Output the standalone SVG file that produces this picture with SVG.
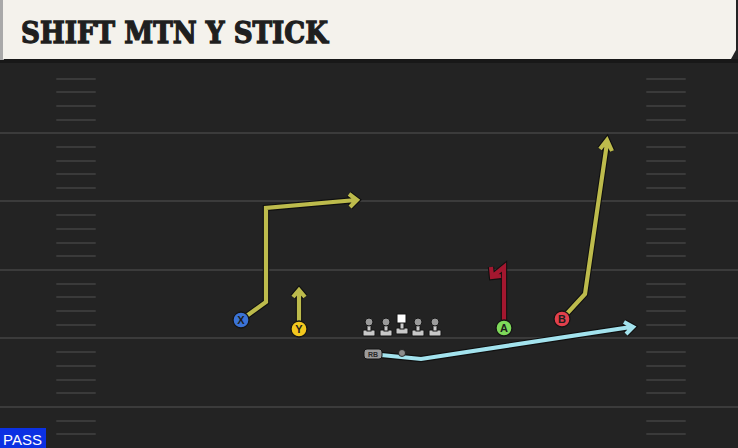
<svg xmlns="http://www.w3.org/2000/svg" xmlns:xlink="http://www.w3.org/1999/xlink" width="738" height="448" viewBox="0 0 738 448">
<style>
.yl{stroke:#3b3b3b;stroke-width:2}
.hm{stroke:#3a3a3a;stroke-width:2;stroke-linecap:round}
.out{fill:none;stroke:#101010;stroke-width:6.4;stroke-linejoin:miter;stroke-linecap:butt}
.rt{fill:none;stroke-width:4.2;stroke-linejoin:miter;stroke-linecap:butt}
.olive{stroke:#bdbb4c}
.red{stroke:#a3172f}
.blue{stroke:#a3e3ee}
.pc{stroke:#141414;stroke-width:1.3}
.pl{font-family:"Liberation Sans",Arial,sans-serif;font-size:11px;font-weight:bold;fill:#1d1d1d;text-anchor:middle}
.ol{fill:#c9c9c9;stroke:#151515;stroke-width:1}
.olh{fill:#9a9a9a;stroke:#151515;stroke-width:1}
</style>
<defs>
<path id="rX" d="M241,320 L266,302 L266,208 L356,200 M349,194 L357,200 L350,207"/>
<path id="rY" d="M299,322 L299,292 M293,297 L299,290 L305,297"/>
<path id="rA" d="M504,321 L504,267 L493,276 M491,267 L492,277 L501,276"/>
<path id="rB" d="M562,319 L585,294 L607,143 M600,149 L607,140 L612,151"/>
<path id="rRB" d="M381,355 L421,359 L631,327 M624,322 L633,327 L626,334"/>
</defs>
<rect x="0" y="0" width="738" height="448" fill="#232323"/>
<g id="field">
<line class="yl" x1="0" y1="133" x2="738" y2="133"/>
<line class="yl" x1="0" y1="201" x2="738" y2="201"/>
<line class="yl" x1="0" y1="270" x2="738" y2="270"/>
<line class="yl" x1="0" y1="338" x2="738" y2="338"/>
<line class="yl" x1="0" y1="407" x2="738" y2="407"/>
<g id="hashL">
<line class="hm" x1="57" y1="79" x2="95" y2="79"/><line class="hm" x1="57" y1="92" x2="95" y2="92"/><line class="hm" x1="57" y1="106" x2="95" y2="106"/><line class="hm" x1="57" y1="120" x2="95" y2="120"/>
<line class="hm" x1="57" y1="147" x2="95" y2="147"/><line class="hm" x1="57" y1="161" x2="95" y2="161"/><line class="hm" x1="57" y1="174" x2="95" y2="174"/><line class="hm" x1="57" y1="188" x2="95" y2="188"/>
<line class="hm" x1="57" y1="215" x2="95" y2="215"/><line class="hm" x1="57" y1="229" x2="95" y2="229"/><line class="hm" x1="57" y1="243" x2="95" y2="243"/><line class="hm" x1="57" y1="256" x2="95" y2="256"/>
<line class="hm" x1="57" y1="284" x2="95" y2="284"/><line class="hm" x1="57" y1="297" x2="95" y2="297"/><line class="hm" x1="57" y1="311" x2="95" y2="311"/><line class="hm" x1="57" y1="325" x2="95" y2="325"/>
<line class="hm" x1="57" y1="352" x2="95" y2="352"/><line class="hm" x1="57" y1="366" x2="95" y2="366"/><line class="hm" x1="57" y1="380" x2="95" y2="380"/><line class="hm" x1="57" y1="393" x2="95" y2="393"/>
<line class="hm" x1="57" y1="421" x2="95" y2="421"/><line class="hm" x1="57" y1="434" x2="95" y2="434"/>
</g>
<use xlink:href="#hashL" href="#hashL" x="590"/>
</g>
<g id="header">
<rect x="0" y="59" width="738" height="4" fill="#181818"/>
<rect x="0" y="0" width="4" height="60" fill="#a9a9a9"/>
<path d="M3,0 H736 V50 L731,59 H3 Z" fill="#f4f2ec"/>
<text x="21" y="43" font-family="'DejaVu Serif',serif" font-weight="bold" font-size="29" fill="#1f1f1f" stroke="#1f1f1f" stroke-width="1.3" textLength="307" lengthAdjust="spacingAndGlyphs">SHIFT MTN Y STICK</text>
</g>
<g id="connectors">
<use href="#rX" xlink:href="#rX" class="out"/><use href="#rX" xlink:href="#rX" class="rt olive"/>
<use href="#rY" xlink:href="#rY" class="out"/><use href="#rY" xlink:href="#rY" class="rt olive"/>
<use href="#rA" xlink:href="#rA" class="out"/><use href="#rA" xlink:href="#rA" class="rt red"/>
<use href="#rB" xlink:href="#rB" class="out"/><use href="#rB" xlink:href="#rB" class="rt olive"/>
<use href="#rRB" xlink:href="#rRB" class="out"/><use href="#rRB" xlink:href="#rRB" class="rt blue"/>
</g>
<g id="line">
<g id="ol1"><rect class="ol" x="363" y="330" width="12" height="6" rx="1"/><rect class="ol" x="367" y="323" width="4" height="8"/><circle class="olh" cx="369" cy="322" r="4"/></g>
<g id="ol2"><rect class="ol" x="380" y="330" width="12" height="6" rx="1"/><rect class="ol" x="384" y="323" width="4" height="8"/><circle class="olh" cx="386" cy="322" r="4"/></g>
<g id="center"><rect class="ol" x="396" y="328" width="12" height="6" rx="1"/><rect class="ol" x="400" y="321" width="4" height="8"/><rect x="397" y="314" width="9" height="9" fill="#ffffff" stroke="#151515" stroke-width="1"/></g>
<g id="ol4"><rect class="ol" x="412" y="330" width="12" height="6" rx="1"/><rect class="ol" x="416" y="323" width="4" height="8"/><circle class="olh" cx="418" cy="322" r="4"/></g>
<g id="ol5"><rect class="ol" x="429" y="330" width="12" height="6" rx="1"/><rect class="ol" x="433" y="323" width="4" height="8"/><circle class="olh" cx="435" cy="322" r="4"/></g>
</g>
<g id="qb"><circle cx="402" cy="353" r="3.5" fill="#8c8c8c" stroke="#151515" stroke-width="0.8"/></g>
<g id="RB">
<rect x="364" y="349" width="18" height="10" rx="3" fill="#9b9b9b" stroke="#151515" stroke-width="1"/>
<text x="373" y="357" font-family="'Liberation Sans',Arial,sans-serif" font-size="7" font-weight="bold" fill="#2a2a2a" text-anchor="middle">RB</text>
</g>
<g id="X"><circle class="pc" cx="241" cy="320" r="8" fill="#3b73d6"/><text class="pl" x="241" y="324">X</text></g>
<g id="Y"><circle class="pc" cx="299" cy="329" r="8" fill="#f2c71e"/><text class="pl" x="299" y="333">Y</text></g>
<g id="A"><circle class="pc" cx="504" cy="328" r="8" fill="#7ed95a"/><text class="pl" x="504" y="332">A</text></g>
<g id="B"><circle class="pc" cx="562" cy="319" r="8" fill="#e2404c"/><text class="pl" x="562" y="323">B</text></g>
<g id="pass">
<rect x="0" y="428" width="46" height="20" fill="#0b31e3"/>
<text x="3" y="445" font-family="'Liberation Sans',Arial,sans-serif" font-size="15" fill="#ffffff">PASS</text>
</g>
</svg>
